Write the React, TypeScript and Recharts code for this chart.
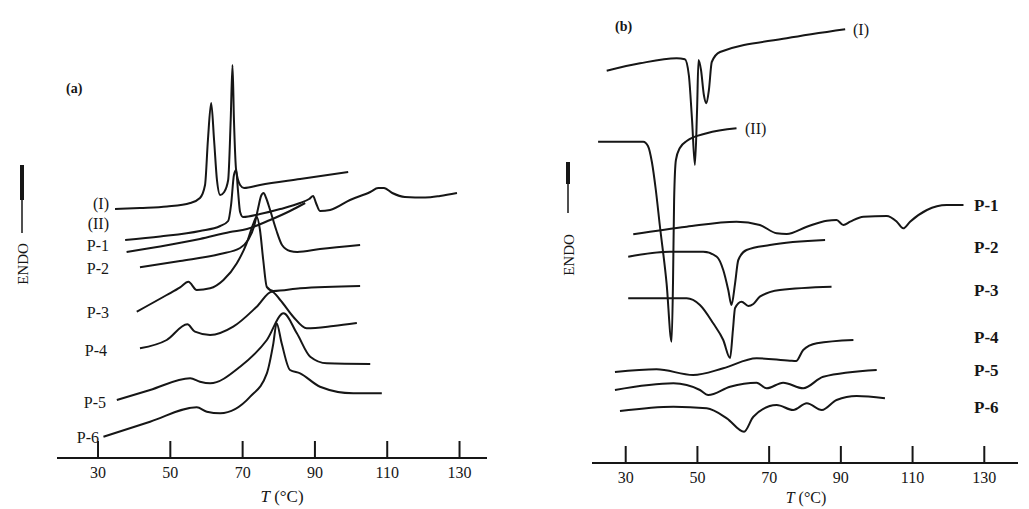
import { LineChart, Line, XAxis, YAxis } from 'recharts';

const TICKS = [30, 50, 70, 90, 110, 130];

// panel (a): [T, signal] pairs
const A_I = [
  [34.7, 249], [41.6, 250], [49.1, 251.5], [55.5, 255], [58.2, 260], [59.6, 273], [60.4, 318],
  [61.3, 355], [62.1, 318], [62.9, 278], [63.8, 263], [64.9, 266], [66.0, 278], [66.7, 338],
  [67.2, 393], [67.6, 338], [68.2, 288], [69.3, 273], [70.4, 270], [74.8, 273], [85.9, 279], [99.2, 286],
];
const A_II = [
  [37.5, 218], [47.2, 221.5], [58.2, 227], [63.8, 232], [66.0, 237], [66.8, 253], [67.6, 283],
  [68.2, 288], [68.7, 268], [69.3, 246], [70.1, 241], [74.8, 244], [80.4, 249], [85.9, 255],
  [88.4, 259], [89.5, 262], [90.3, 255], [91.4, 247], [94.2, 248], [99.7, 258], [105.3, 266],
  [107.5, 270], [109.1, 270], [111.4, 265], [114.9, 261], [120.5, 260.5], [124.6, 262], [129.3, 265],
];
const A_P1 = [
  [37.9, 206], [47.2, 211.5], [58.2, 219], [66.5, 226], [71.2, 229], [77.6, 238], [83.1, 247], [87.3, 255],
];
const A_P2 = [
  [41.6, 190.7], [52.7, 197], [63.8, 204], [69.3, 210], [71.5, 218], [73.2, 232], [74.3, 250],
  [75.1, 262], [75.8, 265], [76.5, 260], [77.6, 248], [79.3, 228], [80.9, 213], [83.1, 207],
  [85.1, 206], [91.4, 209], [102.5, 213],
];
const A_P3 = [
  [40.7, 146.3], [49.0, 163], [52.7, 170.7], [55.0, 176.3], [57.3, 168], [61.0, 169.7], [64.7, 178],
  [68.4, 194.7], [71.1, 214.7], [73.0, 234.7], [73.9, 241.3], [74.8, 228], [75.7, 198], [76.7, 171],
  [78.5, 167], [85.9, 169.7], [102.5, 172],
];
const A_P4 = [
  [41.6, 109.7], [49.0, 118], [54.7, 133.7], [56.8, 126.3], [61.0, 123], [67.4, 131.3], [73.9, 151.3],
  [78.1, 166.3], [80.4, 158], [84.0, 141.3], [87.7, 129.7], [95.1, 132], [101.6, 135],
];
const A_P5 = [
  [35.2, 58], [44.4, 68], [55.5, 79.7], [58.2, 76.3], [61.0, 74.7], [69.3, 91.3], [76.7, 118],
  [81.3, 144.7], [85.0, 124.7], [88.7, 101.3], [93.3, 94.7], [105.3, 94],
];
const A_P6 = [
  [31.5, 21.3], [44.4, 36.3], [57.3, 50.7], [60.1, 46.3], [63.8, 44.7], [72.1, 61.3], [76.7, 84.7],
  [78.5, 114.7], [79.4, 134.7], [80.8, 114.7], [83.1, 88], [85.9, 84.7], [91.4, 71.3], [100.6, 64.7], [108.5, 64.7],
];

// panel (b)
const B_I = [
  [24.7, 392.3], [34.0, 399.7], [44.2, 404.7], [46.5, 403.7], [47.6, 388], [48.5, 343], [49.3, 298],
  [49.9, 353], [50.3, 403], [51.0, 393], [51.8, 368], [52.5, 359.7], [53.2, 373], [54.0, 401],
  [56.3, 411], [74.9, 424.7], [91.2, 433.7],
];
const B_II = [
  [22.3, 321.3], [34.9, 321.3], [36.2, 317], [37.3, 301], [38.4, 273], [39.5, 238], [41.4, 179.7],
  [42.8, 121.3], [43.2, 183], [43.5, 263], [44.0, 303], [45.1, 315], [47.0, 322], [52.6, 329.7], [60.9, 334.7],
];
const B_P1 = [
  [32.1, 228.7], [47.0, 236.3], [60.9, 241.3], [67.4, 238], [72.1, 229.7], [74.9, 229], [80.5, 236.3],
  [86.1, 242.3], [88.8, 243], [90.7, 238], [92.6, 241.3], [96.3, 246.3], [102.8, 247], [105.6, 241.3],
  [107.4, 234.7], [109.3, 241.3], [114.0, 253], [119.5, 258], [124.2, 258],
];
const B_P2 = [
  [30.7, 206.3], [42.3, 211.3], [51.6, 211.3], [55.4, 206.3], [57.2, 193], [58.6, 173], [59.5, 158],
  [60.5, 179.7], [61.4, 203], [63.7, 213], [70.2, 218], [85.6, 223],
];
const B_P3 = [
  [30.7, 164.7], [47.0, 164.7], [50.7, 158], [54.4, 139.7], [57.2, 123], [59.1, 105], [59.9, 133],
  [60.5, 155], [62.3, 161.3], [64.2, 157], [65.6, 159], [67.4, 166.3], [73.0, 173], [87.4, 176.3],
];
const B_P4 = [
  [27.0, 91], [38.6, 93.7], [48.8, 88], [57.2, 94.7], [66.5, 104.7], [75.8, 102.3], [77.5, 102],
  [79.5, 113], [83.3, 119.7], [93.5, 123],
];
const B_P5 = [
  [27.0, 73], [43.3, 79.7], [50.7, 73], [53.0, 68], [59.1, 76.3], [66.5, 80.3], [69.3, 74.7],
  [73.9, 80.3], [79.5, 74.7], [85.1, 86.3], [100.0, 93],
];
const B_P6 = [
  [28.4, 52], [43.3, 56.3], [52.6, 54.7], [58.2, 44.7], [63.0, 31.3], [65.6, 46.3], [72.1, 58],
  [76.7, 53], [80.5, 59.7], [84.7, 53], [88.8, 63], [94.4, 67], [102.3, 64.7],
];

const INK = '#161616';
const FONT = '"Liberation Serif", "DejaVu Serif", serif';

const rows = (pts: number[][]) => pts.map(([t, h]) => ({ t, h }));

function TempTick(props: any) {
  const { x, y, payload } = props;
  return (
    <g>
      <line x1={x} x2={x} y1={y} y2={y - 17} stroke={INK} strokeWidth={2} />
      <text x={x} y={y + 20} textAnchor="middle" fontFamily={FONT} fontSize={16} fill={INK}>
        {payload.value}
      </text>
    </g>
  );
}

interface PanelProps {
  curves: number[][][];
  xDomain: [number, number];
  yMax: number;
  width: number;
  left: number;
  margin: { top: number; left: number; right: number };
  axisHeight: number;
}

function Panel({ curves, xDomain, yMax, width, left, margin, axisHeight }: PanelProps) {
  return (
    <div style={{ position: 'absolute', left, top: 0 }}>
      <LineChart width={width} height={509} margin={{ ...margin, bottom: 0 }}>
        <XAxis
          type="number"
          dataKey="t"
          domain={xDomain}
          ticks={TICKS}
          allowDataOverflow
          height={axisHeight}
          tickSize={0}
          tickMargin={0}
          tickLine={false}
          tick={<TempTick />}
          axisLine={{ stroke: INK, strokeWidth: 2 }}
        />
        <YAxis
          type="number"
          dataKey="h"
          domain={[0, yMax]}
          width={0}
          tick={false}
          tickLine={false}
          axisLine={{ stroke: INK, strokeWidth: 2 }}
        />
        {curves.map((c, i) => (
          <Line
            key={i}
            data={rows(c)}
            dataKey="h"
            type="monotone"
            stroke={INK}
            strokeWidth={2}
            dot={false}
            isAnimationActive={false}
          />
        ))}
      </LineChart>
    </div>
  );
}

// curve names: text, vertical centre, right edge (panel a)
const labelA = [
  ['(I)', 203, 109], ['(II)', 223, 109], ['P-1', 245, 109], ['P-2', 268, 109],
  ['P-3', 312, 109], ['P-4', 350, 107], ['P-5', 402, 106], ['P-6', 437, 99],
];
const labelB = [
  ['P-1', 205], ['P-2', 247], ['P-3', 290], ['P-4', 337], ['P-5', 370], ['P-6', 407],
];

export default function App() {
  return (
    <div style={{ position: 'absolute', left: 0, top: 0, width: 1029, height: 509, background: '#fff' }}>
      <Panel
        curves={[A_I, A_II, A_P1, A_P2, A_P3, A_P4, A_P5, A_P6]}
        xDomain={[18.65, 137.6]}
        yMax={396}
        width={500}
        left={0}
        margin={{ top: 62, left: 57, right: 13 }}
        axisHeight={51}
      />
      <Panel
        curves={[B_I, B_II, B_P1, B_P2, B_P3, B_P4, B_P5, B_P6]}
        xDomain={[20.6, 139.4]}
        yMax={446}
        width={509}
        left={520}
        margin={{ top: 17, left: 72, right: 11 }}
        axisHeight={46}
      />
      <svg
        width={1029}
        height={509}
        style={{ position: 'absolute', left: 0, top: 0, pointerEvents: 'none' }}
        fontFamily={FONT}
        fill={INK}
      >
        <text x={66} y={93} fontSize={14} fontWeight="bold">(a)</text>
        <text x={615} y={31} fontSize={14} fontWeight="bold">(b)</text>

        <rect x={20} y={165} width={4} height={35} />
        <line x1={22} x2={22} y1={200} y2={233} stroke={INK} strokeWidth={1.5} />
        <text transform="translate(28,264) rotate(-90)" textAnchor="middle" fontSize={15}>ENDO</text>

        <rect x={566} y={162} width={4} height={22} />
        <line x1={568} x2={568} y1={184} y2={213} stroke={INK} strokeWidth={1.5} />
        <text transform="translate(574,255) rotate(-90)" textAnchor="middle" fontSize={15}>ENDO</text>

        {labelA.map(([s, y, x]) => (
          <text key={'a' + s} x={Number(x)} y={Number(y) + 6} textAnchor="end" fontSize={16}>{s}</text>
        ))}
        {labelB.map(([s, y]) => (
          <text key={'b' + s} x={974} y={Number(y) + 6} fontSize={17} fontWeight="bold">{s}</text>
        ))}
        <text x={853} y={35} fontSize={16}>(I)</text>
        <text x={745} y={134} fontSize={16}>(II)</text>

        <text x={282} y={502} textAnchor="middle" fontSize={17}>
          <tspan fontStyle="italic">T</tspan> (°C)
        </text>
        <text x={806} y={503} textAnchor="middle" fontSize={16}>
          <tspan fontStyle="italic">T</tspan> (°C)
        </text>
      </svg>
    </div>
  );
}
